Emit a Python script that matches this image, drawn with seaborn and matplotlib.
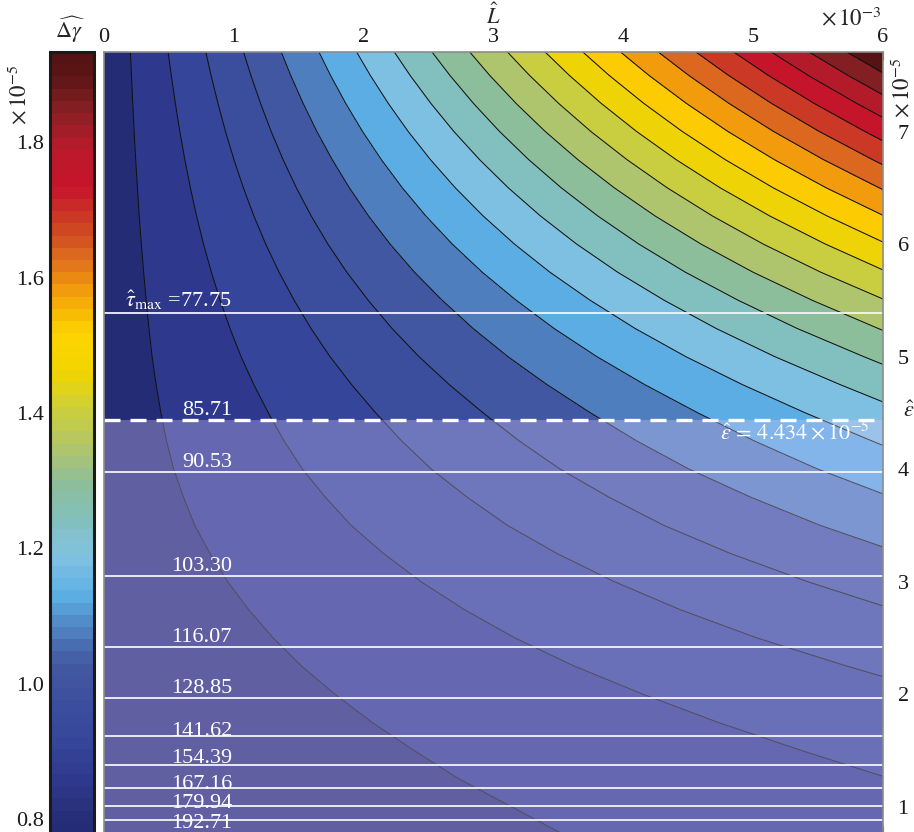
import numpy as np
import matplotlib
matplotlib.use("Agg")
import matplotlib.pyplot as plt
import matplotlib.colors as mcolors
import matplotlib.transforms as mtransforms
import seaborn as sns

# L-hat (x 1e-3) at the two edges of the field; field is linear in L
L_edges = [0.0, 6.0]
# eps-hat nodes (x 1e-5)
eps_nodes = [0.75, 1.00, 1.25, 1.50, 1.75, 2.00, 2.25, 2.50, 2.75, 3.00,
             3.25, 3.50, 3.75, 4.00, 4.25, 4.50, 4.75, 5.00, 5.25, 5.50,
             5.75, 6.00, 6.25, 6.50, 6.75, 7.00, 7.25, 7.50, 7.75]
# Delta-gamma-hat (x 1e-5) at L = 0 and at L = 6e-3
dgamma_L0 = [0.7773, 0.7784, 0.7795, 0.7806, 0.7820, 0.7834, 0.7848, 0.7862,
             0.7878, 0.7895, 0.7911, 0.7928, 0.7939, 0.7950, 0.7955, 0.7956,
             0.7954, 0.7950, 0.7942, 0.7934, 0.7925, 0.7917, 0.7909, 0.7900,
             0.7892, 0.7884, 0.7875, 0.7867, 0.7860]
dgamma_L6 = [0.8581, 0.8676, 0.8796, 0.8923, 0.9071, 0.9239, 0.9435, 0.9651,
             0.9882, 1.0133, 1.0404, 1.0694, 1.0988, 1.1307, 1.1633, 1.1983,
             1.2378, 1.2812, 1.3279, 1.3776, 1.4311, 1.4870, 1.5453, 1.6061,
             1.6692, 1.7348, 1.8027, 1.8731, 1.9461]
contour_levels = [0.825, 0.8805, 0.936, 0.9915, 1.047, 1.1025, 1.158, 1.2135,
                  1.269, 1.3245, 1.38, 1.4355, 1.491, 1.5465, 1.602, 1.6575,
                  1.713, 1.7685, 1.824, 1.8795]
# tau-hat lines and their eps-hat positions (x 1e-5)
tau_values = [77.75, 85.71, 90.53, 103.30, 116.07, 128.85, 141.62, 154.39,
              167.16, 179.94, 192.71]
tau_eps = [5.388, 4.434, 3.974, 3.052, 2.418, 1.962, 1.624, 1.367, 1.166,
           1.006, 0.877]
eps_hat = 4.434
x_ticks = [0, 1, 2, 3, 4, 5, 6]
y_ticks = [1, 2, 3, 4, 5, 6, 7]
cb_ticks = [0.8, 1.0, 1.2, 1.4, 1.6, 1.8]

# ---------------- style ----------------
sns.set_theme(style="white")
plt.rcParams["font.family"] = ["Liberation Serif", "DejaVu Serif"]
plt.rcParams["mathtext.fontset"] = "stix"
FS = 16

cmap_anchors = [
    (0.777, "#252c76"), (0.800, "#272f7a"), (0.853, "#2e3a8e"),
    (0.908, "#36469a"), (0.964, "#3c4f9e"), (1.019, "#4358a1"),
    (1.075, "#4f80bf"), (1.130, "#5db0e6"), (1.186, "#82c2e2"),
    (1.241, "#82c0bc"), (1.297, "#8fbe96"), (1.352, "#b3c667"),
    (1.408, "#cbcf3c"), (1.463, "#f2d500"), (1.519, "#fdd400"),
    (1.574, "#f6a609"), (1.630, "#df6e1d"), (1.685, "#cc4223"),
    (1.741, "#c6142b"), (1.796, "#bd1a2b"), (1.852, "#8a2025"),
    (1.906, "#5c1515"), (1.933, "#551313")]
vmin, vmax = 0.777, 1.933
smooth = mcolors.LinearSegmentedColormap.from_list(
    "dg", [((v - vmin) / (vmax - vmin), c) for v, c in cmap_anchors])
cmap = mcolors.ListedColormap(smooth(np.linspace(0, 1, 64)))
norm = mcolors.Normalize(vmin=vmin, vmax=vmax)

W, H = 914, 832
fig = plt.figure(figsize=(W / 100, H / 100), dpi=100)
ax = fig.add_axes([104 / W, 1 - 833.5 / H, 779 / W, 781.5 / H])
cax = fig.add_axes([50 / W, 1 - 835 / H, 44 / W, 783 / H])

Z = np.column_stack([dgamma_L0, dgamma_L6])
fill_levels = [0.70] + contour_levels + [2.0]
ax.contourf(L_edges, eps_nodes, Z, levels=fill_levels, cmap=cmap, norm=norm,
            zorder=1)
ax.contour(L_edges, eps_nodes, Z, levels=contour_levels, colors="#111111",
           linewidths=0.75, zorder=1.5)

ymin, ymax = 0.76, 7.707
ax.set_xlim(0, 6)
ax.set_ylim(ymin, ymax)

# translucent region below eps-hat
ax.axhspan(ymin, eps_hat, facecolor=(215 / 255, 200 / 255, 250 / 255),
           alpha=0.33, lw=0, zorder=2)

# tau lines
px = 0.72  # points per pixel
label_dy_px = [6, 5, 5, 5, 5, 5, 0, 2, -1, -2, -8]
for tau, e, dy in zip(tau_values, tau_eps, label_dy_px):
    if abs(e - eps_hat) > 1e-6:
        ax.axhline(e, color="#f4f4f8", lw=1.3, zorder=3)
    if tau == tau_values[0]:
        txt = r"$\hat{\tau}_{\mathrm{max}}$ =" + f"{tau:.2f}"
    else:
        txt = f"{tau:.2f}"
    tr = mtransforms.offset_copy(ax.transData, fig=fig, x=0, y=dy * px,
                                 units="points")
    ax.text(0.985, e, txt, transform=tr, ha="right", va="baseline",
            color="white", fontsize=FS, zorder=5)

ax.axhline(eps_hat, color="white", lw=2.4, dashes=(4.8, 3.0), zorder=4)
tr = mtransforms.offset_copy(ax.transData, fig=fig, x=0, y=-2 * px,
                             units="points")
ax.text(5.90, eps_hat, r"$\hat{\epsilon}\,=\,4.434\times10^{-5}$",
        transform=tr, ha="right", va="top", color="white", fontsize=FS,
        zorder=5)

# axes ticks
ax.set_xticks(x_ticks)
ax.set_yticks(y_ticks)
ax.set_xticklabels([str(v) for v in x_ticks])
ax.set_yticklabels([str(v) for v in y_ticks])
ax.tick_params(axis="x", direction="in", length=6, width=0.8, color="#444444",
               top=True, bottom=True, labeltop=True, labelbottom=False,
               labelsize=FS, pad=3.5, labelcolor="#1a1a1a")
ax.tick_params(axis="y", direction="in", length=5, width=0.8, color="#444444",
               left=True, right=True, labelleft=False, labelright=True,
               labelsize=FS, pad=10.5, labelcolor="#1a1a1a")
for sp in ax.spines.values():
    sp.set_color("#8c8c8c")
    sp.set_linewidth(1.2)
    sp.set_zorder(6)

# colorbar
sm = matplotlib.cm.ScalarMappable(norm=norm, cmap=cmap)
cb = fig.colorbar(sm, cax=cax)
cb.set_ticks(cb_ticks)
cb.set_ticklabels([f"{v:.1f}" for v in cb_ticks])
cax.yaxis.set_ticks_position("left")
cax.tick_params(axis="y", direction="in", length=6, width=1.8, color="#111111",
                left=True, right=True, labelleft=True, labelright=False,
                labelsize=FS, pad=4, labelcolor="#1a1a1a")
cb.outline.set_linewidth(2.2)
cb.outline.set_edgecolor("#1a1a1a")

# extra texts
fig.text(493 / W, 1 - 16 / H, r"$\hat{L}$", ha="center", va="center",
         fontsize=FS)
fig.text(881 / W, 1 - 19 / H, r"$\times\,10^{-3}$", ha="right", va="center",
         fontsize=FS + 0.5)
fig.text(903 / W, 1 - 88 / H, r"$\times\,10^{-5}$", ha="center", va="center",
         rotation=90, fontsize=FS + 0.5)
fig.text(20 / W, 1 - 95 / H, r"$\times\,10^{-5}$", ha="center", va="center",
         rotation=90, fontsize=FS + 0.5)
fig.text(70 / W, 1 - 30 / H, r"$\widehat{\Delta\gamma}$", ha="center",
         va="center", fontsize=FS)
fig.text(903 / W, 1 - 412 / H, r"$\hat{\epsilon}$", ha="left", va="center",
         fontsize=FS)

fig.savefig("out.png", dpi=100)
